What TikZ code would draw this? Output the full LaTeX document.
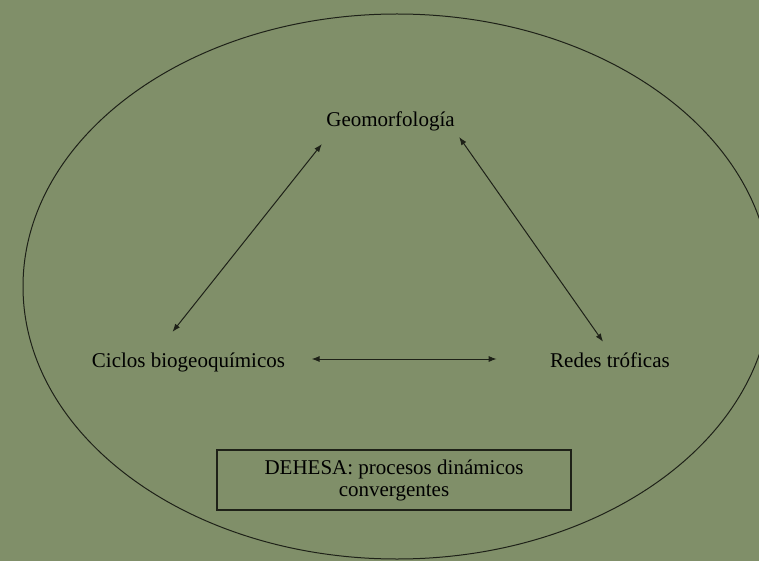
\documentclass[tikz,border=0pt]{standalone}
\usepackage{fontspec}
\setmainfont{Liberation Serif}
\usetikzlibrary{arrows.meta}
\definecolor{dehesa}{RGB}{128,143,105}
\definecolor{trazo}{RGB}{30,33,24}

\tikzset{label text/.style={font=\fontsize{21}{22}\selectfont, anchor=base},
  twoway/.style={{Latex[length=8pt,width=6pt]}-{Latex[length=8pt,width=6pt]}, line width=1pt, trazo}}

\begin{document}
\begin{tikzpicture}[x=1pt,y=-1pt]

\fill[dehesa] (0,0) rectangle (759,561);
\useasboundingbox (0,0) rectangle (759,561);
\begin{scope}
\clip (0,0) rectangle (759,561);
\draw[trazo, line width=1pt] (397,286.5) ellipse (374 and 272.5);
\end{scope}

\node[label text] (geo) at (390.5,127) {Geomorfología};
\node[label text] (ciclos) at (188.5,367) {Ciclos biogeoquímicos};
\node[label text] (redes) at (610,367) {Redes tróficas};

\draw[twoway] ([xshift=-16pt,yshift=17pt]ciclos.north) -- ([xshift=-1pt,yshift=-9pt]geo.south west);
\draw[twoway] ([xshift=1pt,yshift=-2pt]geo.south east) -- ([xshift=-7pt,yshift=7pt]redes.north);
\draw[twoway, shorten <=23pt, shorten >=50pt] ([yshift=8pt]ciclos.base east) -- ([yshift=8pt]redes.base west);

\node[draw=trazo, line width=1.2pt, minimum width=354pt, minimum height=60pt, align=center,
  font=\fontsize{21}{22}\selectfont] (proc) at (394,480) {DEHESA: procesos dinámicos\\convergentes};

\end{tikzpicture}
\end{document}
